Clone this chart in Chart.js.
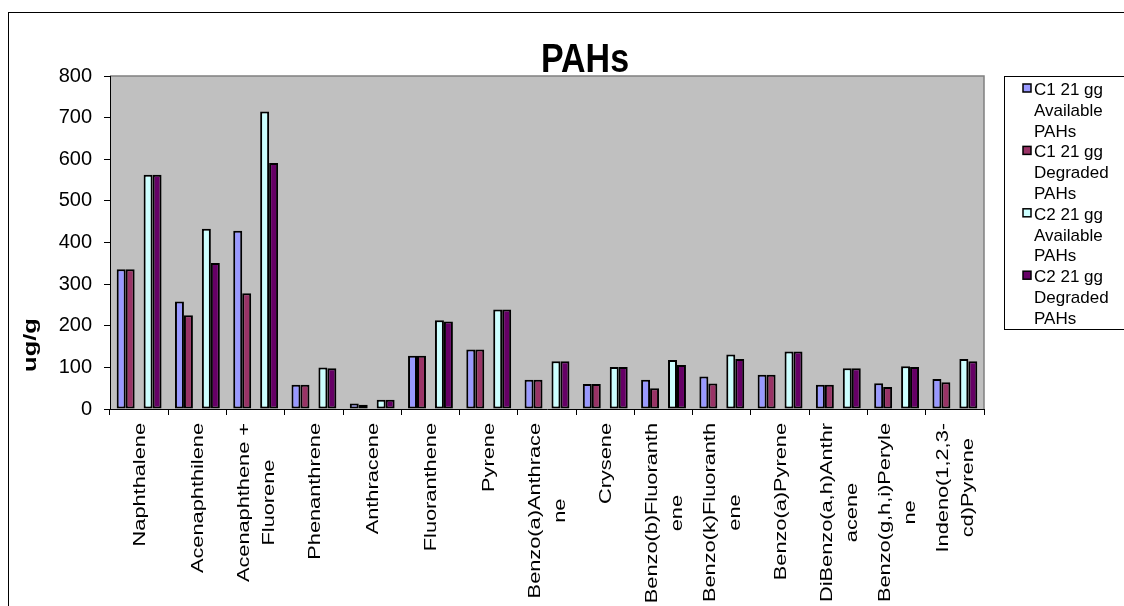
<!DOCTYPE html>
<html>
<head>
<meta charset="utf-8">
<script src="https://cdn.jsdelivr.net/npm/chart.js@4"></script>
<style>
  body { margin: 0; background: #fff; }
  #chartCanvas { display: block; }
</style>
</head>
<body>
<canvas id="chartCanvas" width="1124" height="606"></canvas>
<script>

// categories (multi-line labels as in the sheet)
const categories = [
    ["Naphthalene"],
    ["Acenaphthilene"],
    ["Acenaphthene +", "Fluorene"],
    ["Phenanthrene"],
    ["Anthracene"],
    ["Fluoranthene"],
    ["Pyrene"],
    ["Benzo(a)Anthrace", "ne"],
    ["Crysene"],
    ["Benzo(b)Fluoranth", "ene"],
    ["Benzo(k)Fluoranth", "ene"],
    ["Benzo(a)Pyrene"],
    ["DiBenzo(a,h)Anthr", "acene"],
    ["Benzo(g,h,i)Peryle", "ne"],
    ["Indeno(1,2,3-", "cd)Pyrene"]
];

const c1Available = [336, 258, 428, 58, 13, 128, 143, 70, 60, 70, 78, 82, 58, 62, 72];
const c1Degraded  = [336, 225, 278, 58, 10, 128, 143, 70, 60, 50, 61, 82, 58, 53, 64];
const c2Available = [563, 433, 715, 100, 22, 213, 239, 115, 101, 118, 131, 138, 98, 103, 120];
const c2Degraded  = [563, 351, 591, 98, 22, 210, 239, 115, 101, 106, 120, 138, 98, 101, 115];

// the sheet has an empty column between C1 and C2
const emptySeries = categories.map(() => null);

const seriesNames = [
    ["C1 21 gg", "Available", "PAHs"],
    ["C1 21 gg", "Degraded", "PAHs"],
    ["C2 21 gg", "Available", "PAHs"],
    ["C2 21 gg", "Degraded", "PAHs"]
];
const seriesColors = ["#9999FF", "#993366", "#CCFFFF", "#660066"];

const yTicks = [0, 100, 200, 300, 400, 500, 600, 700, 800];

const FONT = "'Liberation Sans', Arial, sans-serif";

Chart.defaults.font.family = FONT;
Chart.defaults.color = "#000";

// gray plot area, title, axis title, legend, x labels, outer frame
const excelLook = {
    id: "excelLook",
    beforeDraw(chart) {
        const { ctx, chartArea: a } = chart;
        ctx.save();
        ctx.fillStyle = "#C0C0C0";
        ctx.fillRect(a.left, a.top, a.right - a.left, a.bottom - a.top);
        ctx.strokeStyle = "#808080";
        ctx.lineWidth = 1.5;
        ctx.beginPath();
        ctx.moveTo(a.left, a.top);
        ctx.lineTo(a.right, a.top);
        ctx.lineTo(a.right, a.bottom);
        ctx.stroke();
        ctx.restore();
    },
    afterDraw(chart) {
        const { ctx } = chart;
        const xScale = chart.scales.x;

        ctx.save();
        ctx.fillStyle = "#000";

        // title
        ctx.save();
        ctx.font = "bold 40px " + FONT;
        ctx.textAlign = "center";
        ctx.translate(585, 72);
        ctx.scale(0.85, 1);
        ctx.fillText("PAHs", 0, 0);
        ctx.restore();

        // y axis title
        ctx.save();
        ctx.font = "bold 18px " + FONT;
        ctx.textAlign = "center";
        ctx.translate(36, 345);
        ctx.rotate(-Math.PI / 2);
        ctx.scale(1.42, 1);
        ctx.fillText("ug/g", 0, 0);
        ctx.restore();

        // category labels, rotated, lines centred on each other
        const stretch = 1.36;
        const pitch = 25;
        const capH = 0.716 * 16;
        ctx.font = "16px " + FONT;
        categories.forEach((lines, i) => {
            const cx = xScale.getPixelForTick(i);
            const maxLen = Math.max(...lines.map(t => ctx.measureText(t).width)) * stretch;
            lines.forEach((t, j) => {
                const bx = cx + (j - (lines.length - 1) / 2) * pitch + capH / 2;
                ctx.save();
                ctx.translate(bx, 423);
                ctx.rotate(-Math.PI / 2);
                ctx.scale(stretch, 1);
                ctx.textAlign = "center";
                ctx.fillText(t, -maxLen / 2 / stretch, 0);
                ctx.restore();
            });
        });

        // legend box
        ctx.fillStyle = "#fff";
        ctx.fillRect(1004.5, 76.5, 130, 253);
        ctx.strokeStyle = "#000";
        ctx.lineWidth = 1;
        ctx.strokeRect(1004.5, 76.5, 130, 253);
        ctx.font = "17px " + FONT;
        ctx.textAlign = "left";
        let base = 95;
        seriesNames.forEach((lines, k) => {
            ctx.fillStyle = seriesColors[k];
            ctx.fillRect(1023, base - 11, 8, 8);
            ctx.strokeStyle = "#000";
            ctx.lineWidth = 1.5;
            ctx.strokeRect(1023, base - 11, 8, 8);
            ctx.fillStyle = "#000";
            lines.forEach(t => {
                ctx.fillText(t, 1034, base);
                base += 20.8;
            });
        });

        // outer frame
        ctx.strokeStyle = "#000";
        ctx.lineWidth = 1;
        ctx.strokeRect(8.5, 12.5, 1300, 800);
        ctx.restore();
    }
};

const barStyle = (data, color, label) => ({
    label: label,
    data: data,
    backgroundColor: color,
    borderColor: "#000",
    borderWidth: 2,
    borderSkipped: false,
    categoryPercentage: 0.77,
    barPercentage: 1.0
});

let ctx = document.querySelector("#chartCanvas");

let graphPAH = new Chart(ctx, {
    type: "bar",
    data: {
        labels: categories.map(l => l.join(" ")),
        datasets: [
            barStyle(c1Available, seriesColors[0], seriesNames[0].join(" ")),
            barStyle(c1Degraded, seriesColors[1], seriesNames[1].join(" ")),
            barStyle(emptySeries, "transparent", ""),
            barStyle(c2Available, seriesColors[2], seriesNames[2].join(" ")),
            barStyle(c2Degraded, seriesColors[3], seriesNames[3].join(" "))
        ]
    },
    options: {
        responsive: false,
        animation: false,
        devicePixelRatio: 1,
        layout: {
            padding: { top: 76, right: 140, left: 0, bottom: 0 }
        },
        scales: {
            x: {
                afterFit: (scale) => { scale.height = 197; },
                grid: {
                    display: true,
                    offset: true,
                    drawOnChartArea: false,
                    drawTicks: true,
                    tickLength: 6,
                    color: "#000"
                },
                border: { color: "#000", width: 1 },
                ticks: { display: false }
            },
            y: {
                min: 0,
                max: 800,
                afterFit: (scale) => { scale.width = 110; },
                afterBuildTicks: (scale) => {
                    scale.ticks = yTicks.map(v => ({ value: v }));
                },
                grid: {
                    drawOnChartArea: false,
                    drawTicks: true,
                    tickLength: 6,
                    color: "#000"
                },
                border: { color: "#000", width: 1 },
                ticks: {
                    padding: 12,
                    color: "#000",
                    font: { size: 20 }
                }
            }
        },
        plugins: {
            legend: { display: false },
            title: { display: false },
            tooltip: { enabled: false }
        }
    },
    plugins: [excelLook]
});

</script>
</body>
</html>
